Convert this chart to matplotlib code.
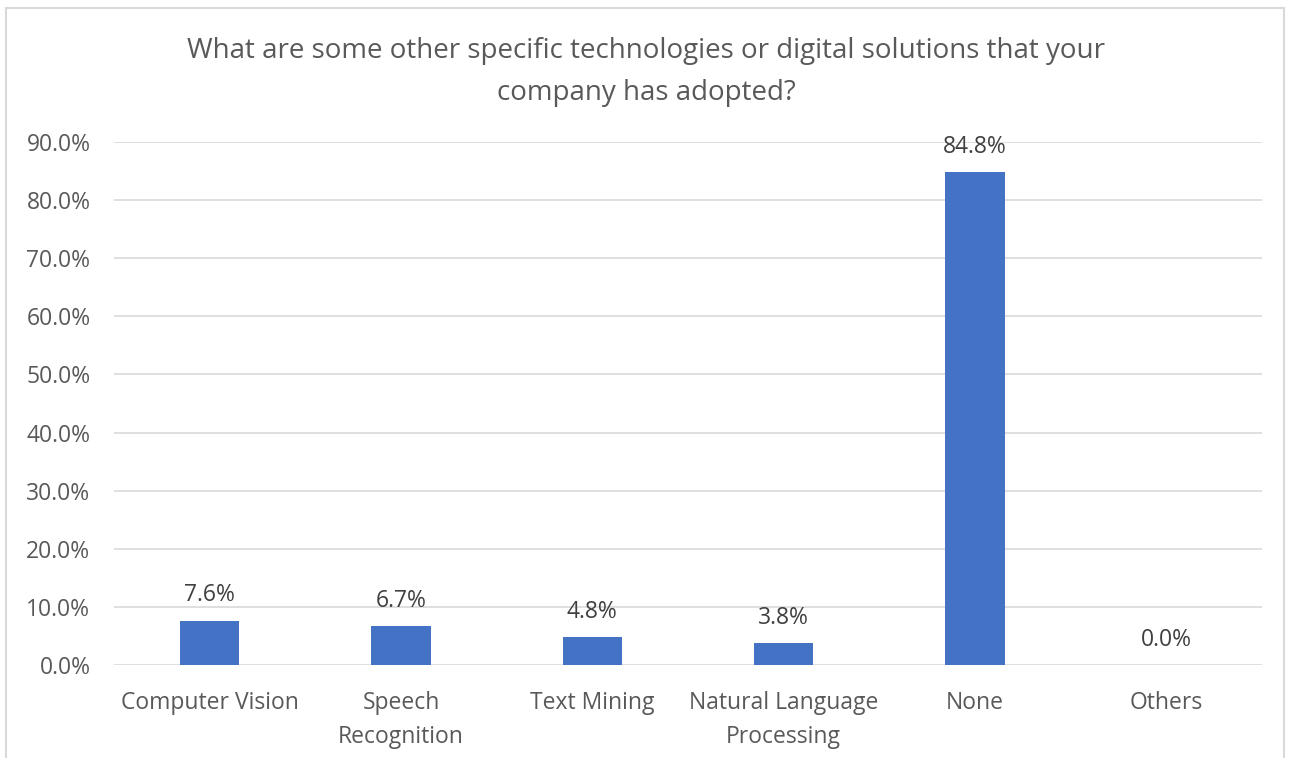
import numpy as np
import matplotlib
matplotlib.use("Agg")
import matplotlib.pyplot as plt
from matplotlib.patches import Rectangle

# survey answers and their share of respondents
categories = ["Computer Vision", "Speech\nRecognition", "Text Mining",
              "Natural Language\nProcessing", "None", "Others"]
shares = [7.6, 6.7, 4.8, 3.8, 84.8, 0.0]
y_ticks = [0, 10, 20, 30, 40, 50, 60, 70, 80, 90]

title = ("What are some other specific technologies or digital solutions that your\n"
         "company has adopted?")

plt.rcParams["font.family"] = ["Open Sans", "DejaVu Sans"]

fig = plt.figure(figsize=(12.92, 7.58), dpi=100)
ax = fig.add_axes([114 / 1292, 93 / 758, 1148 / 1292, 523 / 758])

# outer chart frame
fig.patches.append(Rectangle((6 / 1292, -0.05), 1278 / 1292, 1.05 - 8 / 758,
                             transform=fig.transFigure, fill=False,
                             edgecolor="#d9d9d9", linewidth=1.5))

x = np.arange(len(categories))
ax.bar(x, shares, width=0.31, color="#4472c4", zorder=3)

for xi, v in zip(x, shares):
    ax.text(xi, v + 2.3, "{:.1f}%".format(v), ha="center", va="bottom",
            fontsize=16.5, color="#404040")

ax.set_xlim(-0.5, len(categories) - 0.5)
ax.set_ylim(0, 90)
ax.set_yticks(y_ticks)
ax.set_yticklabels(["{:.1f}%".format(t) for t in y_ticks])
ax.set_xticks(x)
ax.set_xticklabels(categories, linespacing=1.52)
ax.tick_params(axis="both", length=0, labelsize=16.5, labelcolor="#595959")
ax.tick_params(axis="y", pad=17)
ax.tick_params(axis="x", pad=19)
ax.yaxis.grid(True, color="#d9d9d9", linewidth=1.2)
ax.set_axisbelow(True)
for s in ax.spines.values():
    s.set_visible(False)

fig.text(0.5, 1 - 72 / 758, title, ha="center", va="center", fontsize=20,
         color="#595959", linespacing=1.62)

fig.savefig("out.png", dpi=100)
